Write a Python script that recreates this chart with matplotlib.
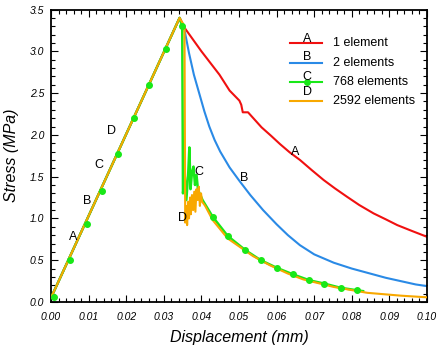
import matplotlib
matplotlib.use("Agg")
import matplotlib.pyplot as plt
from matplotlib.ticker import MultipleLocator

plt.rcParams['font.family'] = ['Liberation Sans', 'DejaVu Sans']

# ---- data ----
a_x = [0.0, 0.0342, 0.0357, 0.0400, 0.0448, 0.0475, 0.0501, 0.0506, 0.0510, 0.0524,
       0.0540, 0.0560, 0.0585, 0.0609, 0.0635, 0.0662, 0.0693, 0.0725, 0.0755, 0.0787,
       0.0820, 0.0858, 0.0890, 0.0921, 0.0960, 0.1000]
a_y = [0.05, 3.40, 3.27, 3.00, 2.72, 2.53, 2.41, 2.36, 2.27, 2.27,
       2.19, 2.09, 1.99, 1.89, 1.79, 1.70, 1.58, 1.46, 1.36, 1.26,
       1.16, 1.06, 0.99, 0.92, 0.85, 0.78]

b_x = [0.0, 0.0342, 0.0354, 0.0367, 0.0380, 0.0394, 0.0408, 0.0421, 0.0435, 0.0450,
       0.0475, 0.0501, 0.0530, 0.0564, 0.0600, 0.0630, 0.0662, 0.0700, 0.0752, 0.0800,
       0.0841, 0.0890, 0.0930, 0.0970, 0.1000]
b_y = [0.05, 3.40, 3.28, 2.98, 2.72, 2.50, 2.28, 2.10, 1.94, 1.80,
       1.61, 1.45, 1.28, 1.10, 0.93, 0.80, 0.68, 0.57, 0.47, 0.40,
       0.35, 0.29, 0.25, 0.21, 0.19]

c_x = [0.0, 0.0342, 0.0349, 0.0351, 0.0356, 0.0360, 0.0365, 0.0368, 0.0371, 0.0375,
       0.0379, 0.0383, 0.0387, 0.0391, 0.0403, 0.0430, 0.0470, 0.0517, 0.0558, 0.0600,
       0.0644, 0.0687, 0.0727, 0.0770, 0.0814, 0.0830]
c_y = [0.05, 3.40, 3.30, 1.30, 1.50, 1.22, 1.55, 1.85, 1.35, 1.55,
       1.62, 1.40, 1.52, 1.34, 1.22, 1.02, 0.79, 0.62, 0.50, 0.41,
       0.33, 0.26, 0.22, 0.17, 0.14, 0.13]

c_mark_x = [0.0007, 0.0051, 0.0095, 0.0136, 0.0178, 0.0220, 0.0260, 0.0306, 0.0349,
            0.0430, 0.0472, 0.0517, 0.0558, 0.0600, 0.0644, 0.0687, 0.0727, 0.0770, 0.0814]
c_mark_y = [0.06, 0.50, 0.93, 1.33, 1.77, 2.20, 2.60, 3.03, 3.30,
            1.02, 0.79, 0.62, 0.50, 0.41, 0.33, 0.26, 0.22, 0.17, 0.14]

d_x = [0.0, 0.0342, 0.0355, 0.0357, 0.0360, 0.0362, 0.0365, 0.0367, 0.0370, 0.0372,
       0.0375, 0.0378, 0.0381, 0.0384, 0.0387, 0.0390, 0.0393, 0.0396, 0.0399, 0.0402,
       0.0410, 0.0430, 0.0470, 0.0537, 0.0582, 0.0630, 0.0671, 0.0752, 0.0841, 0.0930, 0.1000]
d_y = [0.05, 3.40, 3.30, 0.95, 1.15, 0.92, 1.20, 1.00, 1.25, 1.05,
       1.28, 1.10, 1.32, 1.08, 1.35, 1.22, 1.38, 1.15, 1.30, 1.20,
       1.15, 0.98, 0.76, 0.55, 0.44, 0.34, 0.27, 0.18, 0.11, 0.076, 0.056]

series_names = ["1 element", "2 elements", "768 elements", "2592 elements"]
series_letters = ["A", "B", "C", "D"]
left_label_x = [0.0059, 0.0095, 0.0126, 0.0160]
left_label_y = [0.78, 1.21, 1.64, 2.05]
right_label_x = [0.0649, 0.0515, 0.0392, 0.0351]
right_label_y = [1.79, 1.48, 1.55, 1.00]

colors = ["#f01010", "#2a8ae6", "#18e818", "#f8a800"]

fig = plt.figure(figsize=(4.44, 3.5), dpi=100)
ax = fig.add_axes([51 / 444, 1 - 302 / 350, 376 / 444, 292.5 / 350])

lw = 1.5
ax.plot(a_x, a_y, color=colors[0], lw=lw, zorder=2)
ax.plot(b_x, b_y, color=colors[1], lw=lw, zorder=2)
ax.plot(c_x, c_y, color=colors[2], lw=lw + 0.3, zorder=3)
ax.plot(d_x, d_y, color=colors[3], lw=lw, zorder=4)
ax.plot(c_mark_x, c_mark_y, ls='none', marker='o', ms=4, color=colors[2], zorder=5)

for i, L in enumerate(series_letters):
    ax.text(left_label_x[i], left_label_y[i], L, fontsize=9, ha='center', va='center', zorder=6)
    ax.text(right_label_x[i], right_label_y[i], L, fontsize=9, ha='center', va='center', zorder=6)

# manual legend
leg_y = [0.884, 0.818, 0.752, 0.687]
leg_letter_dy = [0.016, 0.020, 0.018, 0.030]
for i, name in enumerate(series_names):
    ax.plot([0.636, 0.721], [leg_y[i], leg_y[i]], transform=ax.transAxes,
            color=colors[i], lw=lw, zorder=6)
    if i == 2:
        ax.plot([0.680], [leg_y[i]], transform=ax.transAxes, marker='o', ms=4,
                color=colors[2], zorder=7)
    ax.text(0.681, leg_y[i] + leg_letter_dy[i], series_letters[i], transform=ax.transAxes,
            fontsize=9, ha='center', va='center', zorder=8)
    ax.text(0.750, leg_y[i], name, transform=ax.transAxes, fontsize=9,
            ha='left', va='center', zorder=8)

ax.set_xlim(0.0, 0.10)
ax.set_ylim(0.0, 3.5)
ax.xaxis.set_major_locator(MultipleLocator(0.01))
ax.xaxis.set_minor_locator(MultipleLocator(0.002))
ax.yaxis.set_major_locator(MultipleLocator(0.5))
ax.yaxis.set_minor_locator(MultipleLocator(0.1))
ax.tick_params(which='both', direction='in', top=True, right=True, color='black', width=0.8)
ax.tick_params(which='major', length=5)
ax.tick_params(which='minor', length=3)
ax.tick_params(axis='x', which='major', pad=7)
ax.tick_params(axis='y', which='major', pad=5)
ax.set_xticklabels([f"{v:.2f}" for v in ax.get_xticks()], fontsize=7.5, style='italic')
ax.set_yticklabels([f"{v:.1f}" for v in ax.get_yticks()], fontsize=7.5, style='italic')
for s in ax.spines.values():
    s.set_linewidth(1.3)

ax.set_xlabel("Displacement (mm)", fontsize=11.5, style='italic', labelpad=6)
ax.set_ylabel("Stress (MPa)", fontsize=11.5, style='italic', labelpad=8)

fig.savefig("out.png", dpi=100)
